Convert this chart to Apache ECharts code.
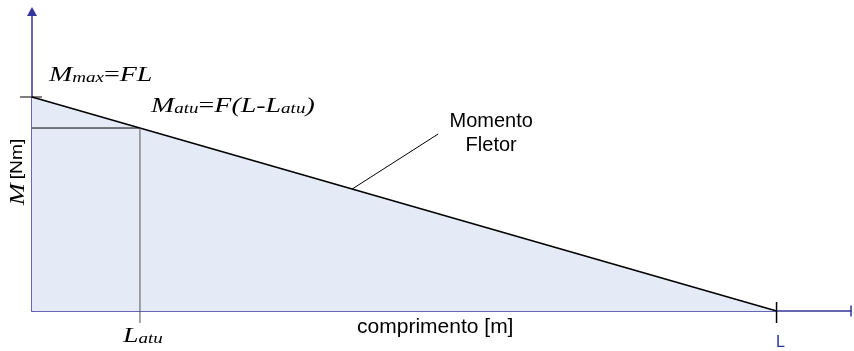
<!DOCTYPE html>
<html>
<head>
<meta charset="utf-8">
<script src="https://cdn.jsdelivr.net/npm/echarts@6/dist/echarts.min.js"></script>
<style>
  html, body { margin: 0; padding: 0; background: #ffffff; }
  #chart { width: 854px; height: 351px; }
</style>
</head>
<body>
<div id="chart"></div>
<script>
// Cantilever beam: bending moment M(x) = F (L - x), with F = 1 and L = 10
const beamPosition = [0, 10];        // x [m]
const bendingMoment = [10, 0];       // M [Nm]
const actuationPosition = 1.45;      // L_atu
const actuationMoment = 8.55;        // M_atu = F (L - L_atu)
const leaderPosition = 4.3;          // where the "Momento Fletor" callout touches the curve
const xTickValues = [10];
const xTickLabels = ['L'];

const AXIS_COLOR = '#35359b';
const SERIF = '"Liberation Serif", "Times New Roman", serif';
const SANS = '"Liberation Sans", Arial, sans-serif';

const momentData = beamPosition.map((x, i) => [x, bendingMoment[i]]);
const momentAt = x => bendingMoment[0] + (bendingMoment[1] - bendingMoment[0]) *
  (x - beamPosition[0]) / (beamPosition[1] - beamPosition[0]);

const chart = echarts.init(document.getElementById('chart'), null, { renderer: 'canvas' });

chart.setOption({
  animation: false,
  grid: { left: 32, right: 2.5, top: 11.4, bottom: 40 },
  xAxis: {
    type: 'value', min: 0, max: 11, interval: 1,
    axisLine: {
      symbol: ['none', 'rect'], symbolSize: [11, 1.5],
      lineStyle: { color: AXIS_COLOR, width: 1.5 }
    },
    axisTick: { show: false },
    splitLine: { show: false },
    axisLabel: {
      formatter: v => { const i = xTickValues.indexOf(v); return i >= 0 ? xTickLabels[i] : ''; },
      color: '#2233aa', fontFamily: SANS, fontSize: 16, margin: 24,
      padding: [0, 0, 0, 8]
    }
  },
  yAxis: {
    type: 'value', min: 0, max: 14,
    axisLine: {
      show: true, symbol: ['none', 'triangle'], symbolSize: [10, 9],
      lineStyle: { color: AXIS_COLOR, width: 1.5 }
    },
    axisTick: { show: false },
    axisLabel: { show: false },
    splitLine: { show: false }
  },
  series: [
    {
      name: 'Momento Fletor', type: 'line', data: momentData,
      symbol: 'none', z: 3,
      lineStyle: { color: '#000000', width: 1.6 },
      areaStyle: { color: '#e5ebf6', opacity: 1 }
    },
    {
      type: 'line', symbol: 'none', z: 4,
      data: [[beamPosition[0], actuationMoment], [actuationPosition, actuationMoment]],
      lineStyle: { color: '#000000', width: 1 }
    },
    {
      type: 'line', symbol: 'none', z: 4,
      data: [[actuationPosition, actuationMoment], [actuationPosition, 0]],
      lineStyle: { color: '#555555', width: 1 }
    }
  ]
});

// annotations placed relative to the data points
const px = (x, y) => chart.convertToPixel({ gridIndex: 0 }, [x, y]);
const pMax = px(beamPosition[0], bendingMoment[0]);
const pEnd = px(beamPosition[1], bendingMoment[1]);
const pAtu = px(actuationPosition, actuationMoment);
const pAtuBase = px(actuationPosition, 0);
const pLeader = px(leaderPosition, momentAt(leaderPosition));
const pMid = px((beamPosition[0] + beamPosition[1]) / 2, 0);

const mathRich = {
  m: { fontFamily: SERIF, fontStyle: 'italic', fontSize: 22, lineHeight: 24, verticalAlign: 'bottom', fill: '#000' },
  r: { fontFamily: SERIF, fontSize: 22, lineHeight: 24, verticalAlign: 'bottom', fill: '#000' },
  s: { fontFamily: SERIF, fontStyle: 'italic', fontSize: 15, lineHeight: 12, verticalAlign: 'bottom', fill: '#000' }
};
const line = (x1, y1, x2, y2, color, w) => ({
  type: 'line', silent: true, z: 5,
  shape: { x1, y1, x2, y2 },
  style: { stroke: color, lineWidth: w }
});
const mathText = (x, y, text) => ({
  type: 'text', silent: true, z: 6, x, y, scaleX: 1.27,
  style: { text, rich: mathRich, textAlign: 'left', textVerticalAlign: 'bottom' }
});

chart.setOption({
  graphic: [
    line(pMax[0] - 12, pMax[1], pMax[0] + 10, pMax[1], '#000', 1),
    line(pEnd[0], pEnd[1] - 9, pEnd[0], pEnd[1] + 12, '#000', 1.5),
    line(pAtuBase[0], pAtuBase[1], pAtuBase[0], pAtuBase[1] + 12, '#555555', 1),
    line(pLeader[0], pLeader[1], pLeader[0] + 86, pLeader[1] - 55, '#000', 1),
    mathText(pMax[0] + 17, pMax[1] - 11, '{m|M}{s|max}{r|=}{m|FL}'),
    mathText(pAtu[0] + 11, pAtu[1] - 11, '{m|M}{s|atu}{r|=}{m|F(L-L}{s|atu}{m|)}'),
    mathText(pAtuBase[0] - 17, pAtuBase[1] + 36, '{m|L}{s|atu}'),
    {
      type: 'text', silent: true, z: 6,
      x: pLeader[0] + 139, y: pLeader[1] - 56,
      style: {
        text: 'Momento\nFletor', fontFamily: SANS, fontSize: 20, lineHeight: 24,
        fill: '#000', textAlign: 'center', textVerticalAlign: 'middle'
      }
    },
    {
      type: 'text', silent: true, z: 6,
      x: pMid[0] + 31, y: pMid[1] + 16,
      style: {
        text: 'comprimento [m]', fontFamily: SANS, fontSize: 21,
        fill: '#000', textAlign: 'center', textVerticalAlign: 'middle'
      }
    },
    {
      type: 'text', silent: true, z: 6,
      x: 18, y: 172, rotation: Math.PI / 2, scaleX: 1.2,
      style: {
        text: '{i|M} {n|[Nm]}', textAlign: 'center', textVerticalAlign: 'middle',
        rich: {
          i: { fontFamily: SERIF, fontStyle: 'italic', fontSize: 22, fill: '#000' },
          n: { fontFamily: SANS, fontSize: 16, fill: '#000' }
        }
      }
    }
  ]
});
</script>
</body>
</html>
